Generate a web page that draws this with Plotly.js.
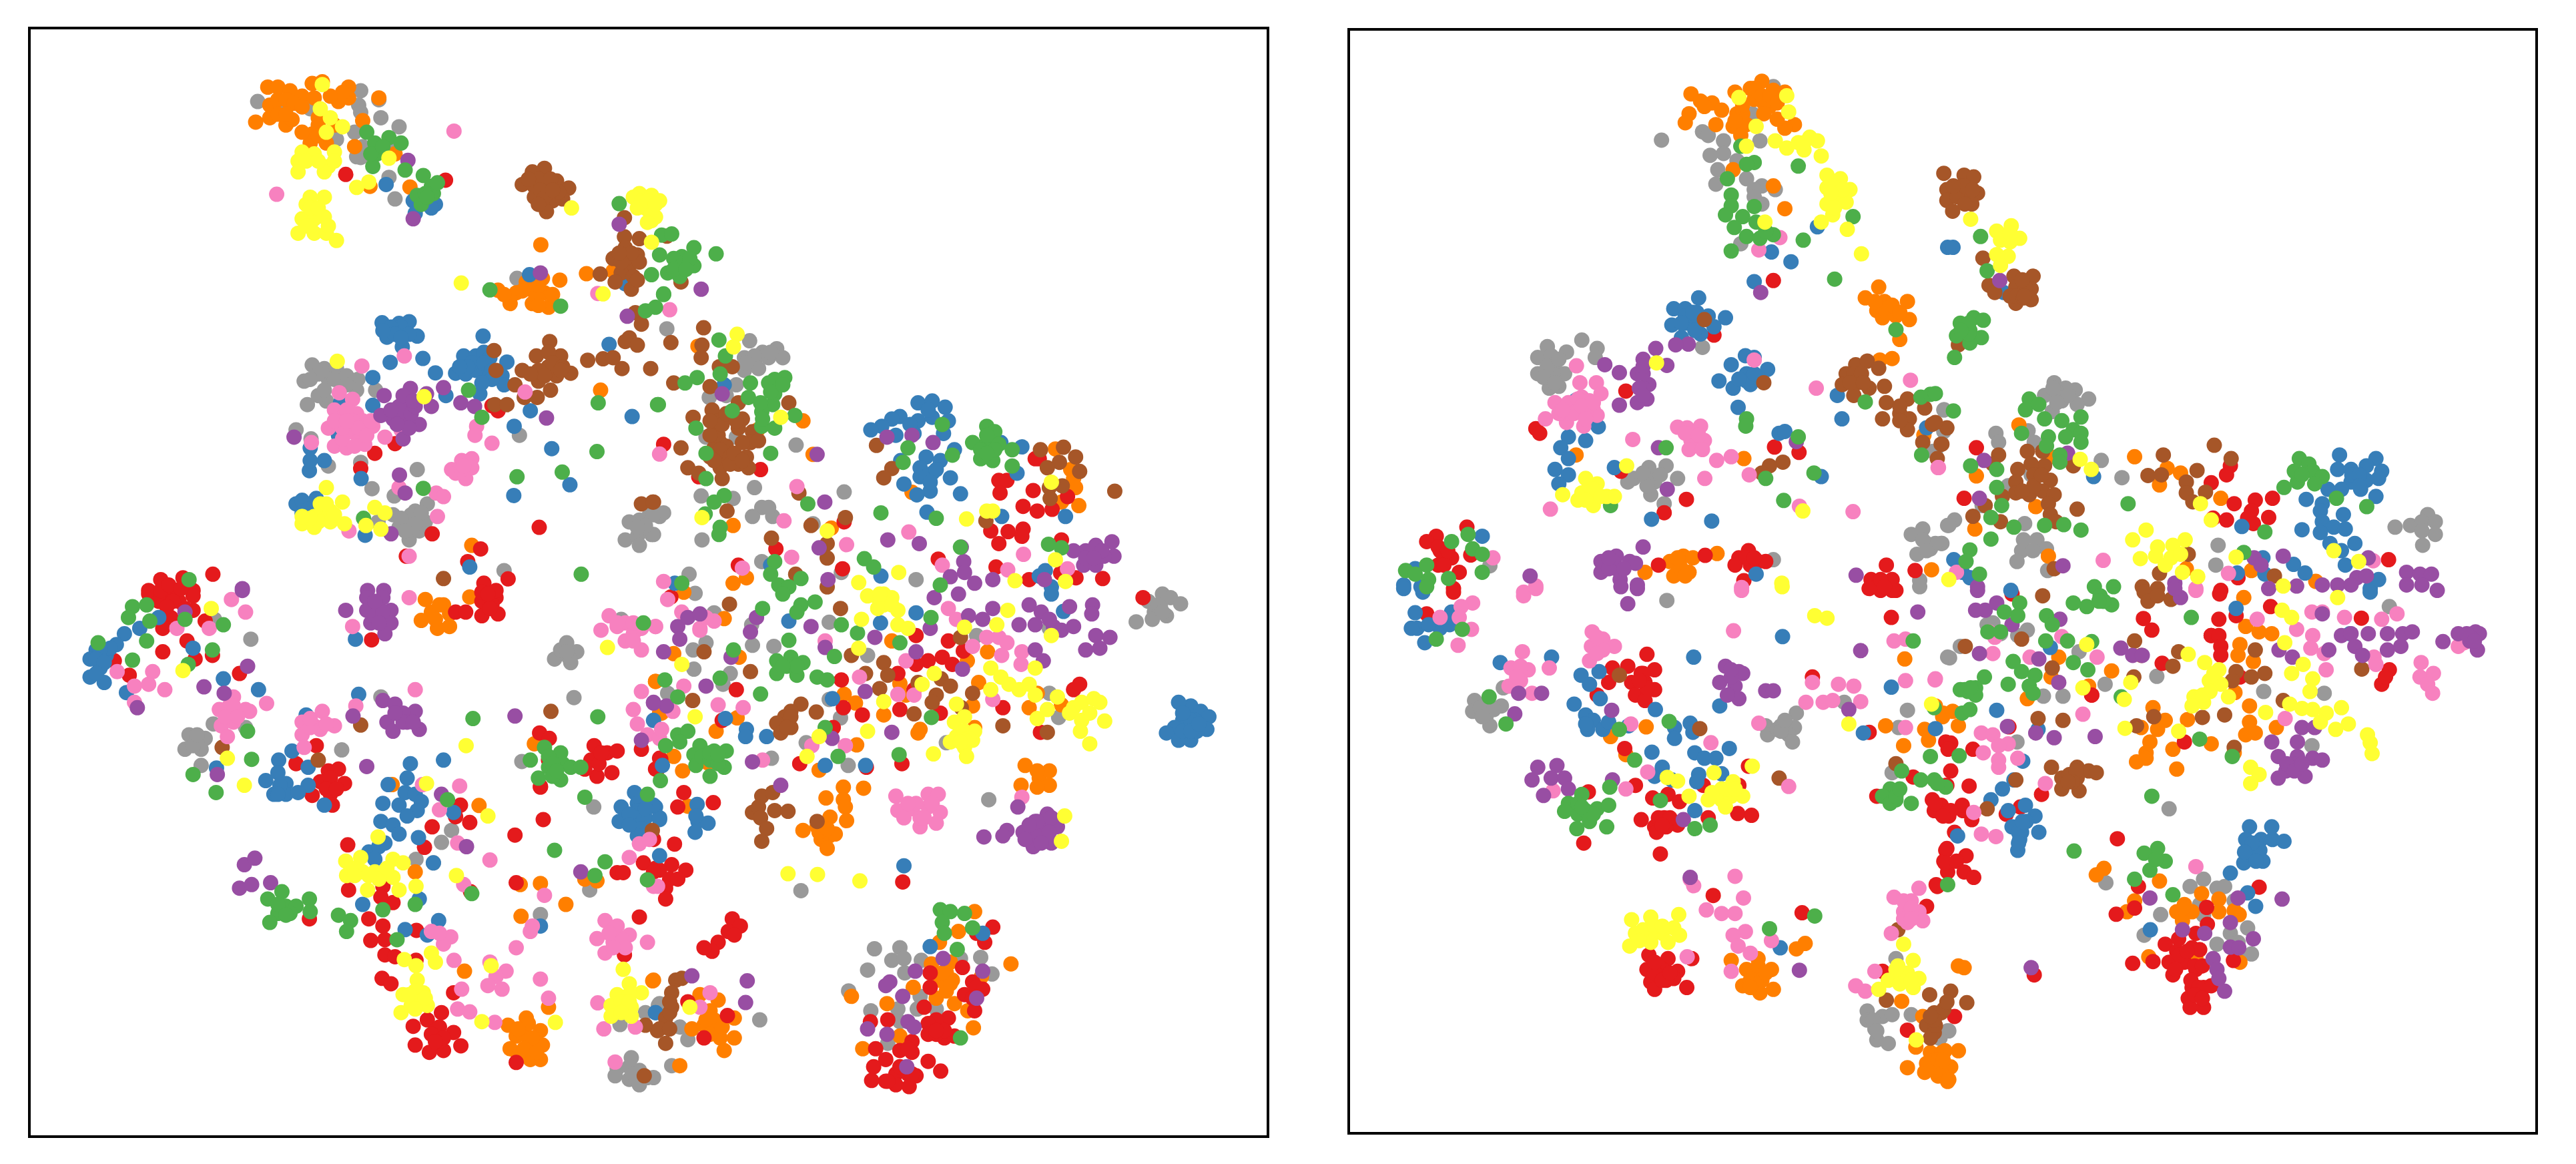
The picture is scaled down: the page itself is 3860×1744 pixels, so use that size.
<!DOCTYPE html>
<html>
<head>
<meta charset="utf-8">
<script src="https://cdn.plot.ly/plotly-3.0.1.min.js"></script>
<style>
  html, body { margin: 0; padding: 0; background: #fff; }
</style>
</head>
<body>
<div id="chart"></div>
<script>
// embedding coordinates, one list per class and panel
const leftRed = [[788,407],[1035,423],[1165,1062],[1150,1048],[860,1180],[910,1153],[825,1222],[1002,1403],[938,1465],[1122,1445],[1090,1480],[1130,1540],[1190,1528],[1267,1385],[330,1530],[300,1560],[385,1525],[355,1560],[410,1560],[459,1515],
[300,1570],[350,1575],[410,1575],[325,1590],[375,1590],[410,1615],[355,1635],[335,1665],[440,1645],[395,1700],[335,1730],[215,1755],[252,1795],[415,1750],[458,1740],[525,1790],[852,1697],[1060,1620],[1085,1620],[1125,1590],[1160,1580],[1125,1630],[1165,1625],[1150,1600],[1125,1565],[1160,1560],
[715,1990],[665,2040],[745,2060],[770,2055],[725,2090],[785,2095],[750,2125],[705,2128],[755,2155],[1072,2155],[1060,2187],[1095,2203],[1002,2215],[1207,2238],[1277,2195],[983,2272],[793,2265],[1097,2395],[1270,2105],[1210,2370],
[795,2390],[880,2380],[905,2425],[875,2410],[845,2470],[880,2490],[850,2530],[885,2528],[885,2570],[910,2575],[963,2502],[962,2585],[878,2635],[900,2650],[1055,2675],[698,2470],
[1025,2730],[990,2750],[955,2768],[1010,2780],[1055,2785],[960,2820],[995,2840],[1030,2835],[1073,2822],[1020,2810],[1210,2868],
[1268,1955],[1292,1970],[1290,2030],[1270,2103],[1403,1990],[1395,2030],[1435,2010],[1460,2005],[1410,2075],[1447,2065],[1380,2055],[1520,2000],[1565,2025],[1555,2055],[1525,2315],[1555,2330],[1460,2342],[1475,2342],[1515,2465],[1478,2570],
[1575,1155],[1815,1225],[1662,1245],[1853,1445],[2018,1500],[2255,1473],[2398,1495],[2480,1530],[2558,1512],[2596,1525],[2662,1527],[2560,1420],[1760,1490],[2022,1370],
[2505,1195],[2495,1195],[2405,1255],[2425,1255],[2408,1290],[2490,1283],[2465,1327],[2500,1340],[2537,1335],[2575,1300],[2385,1395],[2428,1397],[2405,1430],[2465,1390],[2462,1410],
[1593,1578],[2762,1580],[1755,1835],[2015,1808],[2067,1905],[1995,1940],[2020,1885],[1720,1920],[1568,2028],[1560,2055],[1912,2040],[2077,2050],[2165,2040],[2160,1890],[2195,1835],[2200,1685],[2230,1755],[2200,1765],[2265,1745],[2280,1700],[2317,1728],[2290,1765],[2155,1790],[2260,1900],[2415,1885],[2590,1835],[2605,1820],[2508,1953],[1625,2120],[1610,2160],[1698,2148],[1602,2263],[1550,2250],
[1595,2320],[1565,2335],[1630,2335],[1590,2360],[1580,2385],[1610,2360],[1580,2415],[1550,2340],[1745,2470],[1765,2490],[1735,2505],[1750,2515],[1710,2535],[1695,2560],[1675,2550],[2167,2368],
[2390,2493],[2350,2510],[2370,2535],[2315,2605],[2235,2620],[2235,2660],[2340,2645],[2365,2665],[2320,2680],[2340,2690],[2345,2725],[2130,2750],[2087,2755],[2280,2745],[2250,2750],[2230,2760],[2230,2790],[2270,2800],[2295,2795],[2190,2810],[2160,2835],[2190,2840],[2230,2865],[2100,2830],[2125,2860],[2095,2880],[2090,2918],[2125,2920],[2150,2900],[2150,2930],[2180,2900],[2200,2905],[2183,2935],[2261,2892],[2220,2715],
[1635,2700],[1675,2800],[1733,2738],
[330,1560],[350,1545],[380,1555],[360,1590],[345,1605],[390,1610],[1145,1610],[1140,1570],[750,2100],[750,2080],[740,2110],[765,2110],[1020,2770],[1000,2790],[1030,2800],[1010,2810],[1415,2040],[1420,2010],[2350,2660],[2250,2790],[2180,2830],[2160,2880],[2190,2900],[2130,2920],[2270,2780],[2250,2780]];
const leftBlue = [[888,435],[1010,490],[1000,500],[955,480],[960,515],[1243,685],[1480,710],[878,818],[920,820],[945,815],[965,855],[890,858],[928,885],[925,830],[898,928],[979,917],[1010,957],
[1128,855],[1080,910],[1060,958],[1085,960],[1110,910],[1130,900],[1145,915],[1130,960],[1110,950],[1175,965],[1180,990],[1187,927],[1120,1015],[1036,1020],[855,970],[855,1047],[775,1040],[770,1130],[700,1165],[735,1200],[698,1228],[700,1200],[826,1250],[1245,1062],[1205,1105],[1497,1078],[1298,1167],[1343,1267],[1204,1297],[1095,1495],
[665,1320],[690,1320],[715,1305],[680,1345],[836,1407],[1440,878],[1725,990],
[2205,1040],[2240,1035],[2272,1052],[2205,1090],[2240,1080],[2280,1090],[2160,1078],[2140,1085],[2115,1105],[2088,1115],[2150,1130],[2195,1125],[2268,1125],[2295,1170],[2225,1190],[2260,1200],[2210,1220],[2210,1245],[2240,1235],[2285,1248],[2170,1265],[2162,1200],[2235,1285],[2202,1295],[2310,1292],[2227,1343],
[2410,1150],[2462,1162],[2450,1235],[2412,1355],[2570,1355],[1840,1490],[1603,1540],[2113,1520],[2520,1505],[2535,1550],[2505,1520],
[240,1680],[220,1710],[170,1725],[155,1750],[195,1740],[155,1800],[190,1815],[180,1775],[205,1720],[245,1843],[485,1805],[572,1835],[410,1720],[278,1665],[325,1635],[812,1695],[820,1848],[690,1905],[655,2005],[695,2050],
[622,2030],[620,2065],[590,2087],[640,2095],[610,2125],[640,2125],[695,2100],[670,2120],[735,2155],[1030,2030],[948,2040],[940,2080],[935,2120],[960,2125],[880,2150],[920,2155],[975,2145],[965,2170],[940,2185],[875,2200],[905,2210],[920,2235],[968,2245],[1055,2175],[845,2285],[870,2270],[885,2260],[860,2305],[1005,2315],[830,2430],[970,2415],[935,2500],[1018,2475],[990,2515],[893,2098],[468,2052],
[1503,2120],[1470,2160],[1510,2150],[1465,2200],[1530,2190],[1510,2190],[1520,2220],[1555,2160],[1510,2240],[1565,2190],[1550,1920],[1270,2490],[1555,2730],
[1885,1645],[2112,1650],[2200,1622],[2565,1618],[2535,1570],[1993,1860],[1830,1965],[1780,1945],[1778,1965],[1728,1915],[1975,2045],[1572,2045],[2075,2045],[1565,2195],[1658,2153],[1660,2200],[1685,2205],[1653,2230],[1655,2185],[1565,2295],[2170,2323],[1550,2155],
[2880,1880],[2850,1870],[2905,1895],[2925,1910],[2860,1920],[2890,1920],[2840,1940],[2820,1955],[2920,1945],[2850,1975],[2880,1975],[2895,1950],[2860,1950],[2235,2547],[2365,2510],[1555,2730],
[900,830],[945,850],[910,850],[925,860],[880,840],[1100,930],[1090,940],[1130,930],[1150,950],[1070,940],[1150,975],[1125,985],[680,1310],[695,1335],[2230,1060],[2225,1245],[2250,1225],[2235,1260],[2185,1100],[180,1725],[170,1750],[190,1760],[170,1790],[625,2100],[620,2125],[1510,2170],[1490,2180],[1530,2165],[1490,2210],[2880,1920],[2880,1950],[2860,1900],[2900,1930]];
const leftGreen = [[840,290],[860,320],[865,350],[855,385],[895,305],[925,320],[935,395],[980,410],[1000,440],[965,465],[1005,460],[975,490],[1015,430],[1145,727],[1320,772],[1465,488],[1565,630],[1545,685],[1575,740],[1530,785],[1555,775],[1413,1040],[1560,1045],[1092,1005],[1125,1080],[980,1277],[1410,1175],[1324,1232],[1212,1245],[832,1360],[1371,1515],[400,1530],
[1570,575],[1595,572],[1620,635],[1600,640],[1650,610],[1585,680],[1615,690],[1650,660],[1625,650],[1705,627],[1575,738],[1712,866],[1728,910],[1628,985],[1658,970],[1715,960],[1790,985],[1835,985],[1875,970],[1850,975],[1850,1015],[1845,1045],[1785,1025],[1818,1065],[1818,1105],[1850,1110],[1900,1075],[1745,1062],[1562,1045],[1655,1110],[1680,1180],[1840,1180],[1680,1250],[1725,1297],[1700,1315],[1678,1348],[1932,1320],[1715,1385],[1712,1405],[2113,1345],
[2265,1100],[2180,1165],[2168,1205],[2290,1185],[2250,1360],[2375,1105],[2395,1120],[2340,1150],[2375,1150],[2405,1155],[2360,1195],[2390,1200],[2438,1170],[2438,1215],[1850,1480],[1840,1515],[1915,1527],[1620,1540],[2072,1472],[2095,1495],[2310,1440],[2528,1432],[2560,1442],[2260,1545],[1860,1545],[1885,1550],
[260,1605],[250,1635],[295,1600],[303,1645],[390,1640],[485,1655],[295,1700],[458,1725],[260,1753],[398,1765],[175,1705],[545,1950],[410,2070],[555,2028],[467,2120],[1103,1915],[1412,1910],[1040,2140],[1100,2400],[880,2445],[960,2430],[770,2460],[800,2475],[790,2505],[915,2528],
[595,2415],[630,2395],[640,2435],[620,2455],[600,2480],[665,2435],[698,2415],[700,2450],[650,2455],[1305,2280],[1380,2133],[1430,2312],[1405,2350],[1535,2362],[1535,2125],[1245,2030],[1280,1995],[1265,2080],[1320,2010],[1290,2050],[1325,2040],[1345,2050],[1320,2085],[1370,2050],[1300,2075],[1525,1650],
[1820,1610],[1915,1600],[1950,1592],[1905,1620],[1870,1570],[1885,1698],[2015,1655],[2055,1678],[2160,1705],[2237,1635],[1748,1725],[1998,1743],[1578,1808],[1715,1803],[1610,1855],[1815,1847],[2238,1912],[1975,1940],[1610,1960],[1635,1950],[1580,1990],[1615,1980],
[1855,1755],[1890,1745],[1920,1760],[1855,1790],[1905,1795],[1885,1765],[1955,1800],[1980,1808],[1665,1990],[1650,2015],[1700,2005],[1730,2005],[1655,2045],[1725,2050],[1690,2075],[1670,2020],[1567,2087],[2007,2020],[2158,2015],
[2260,2445],[2285,2450],[2265,2480],[2320,2455],[2340,2495],[2270,2510],[2302,2555],[2310,2800],
[850,350],[985,460],[990,470],[880,330],[1620,660],[1640,640],[1600,670],[1630,670],[1840,1010],[1870,990],[1815,1040],[1820,1085],[2375,1130],[2360,1170],[2395,1170],[2375,1180],[620,2430],[640,2460],[1290,2020],[1300,2040],[1310,2060],[1880,1770],[1905,1770],[1870,1770],[1690,2030],[1710,2040],[1690,2010],[1710,2015]];
const leftPurple = [[942,368],[955,530],[1270,680],[1465,545],[1485,800],[1030,998],[1073,1040],[1107,1050],[883,1020],[948,1000],[988,1015],[1000,1050],[945,1040],[920,1050],[940,1075],[905,1085],[970,1100],[875,1075],[930,1140],[660,1135],[921,1240],[935,1290],[1285,1082],[900,1403],[842,1560],[882,1560],[532,1555],
[1668,725],[1720,1015],[1955,1183],[1974,1315],[2128,1135],[2190,1130],[2242,1150],[2130,1420],[2208,1430],[1960,1442],[1982,1530],[2312,1440],[2318,1480],[2320,1510],[2285,1522],[2345,1540],[2390,1530],[2518,1530],[2590,1450],[2620,1450],[2645,1435],[2685,1425],[2690,1465],[2615,1490],[2645,1490],[2665,1465],
[532,1560],[390,1620],[272,1885],[437,1827],[545,1770],[487,1845],[470,2070],[788,1615],[840,1580],[880,1580],[840,1615],[900,1615],[870,1610],[850,1650],[900,1650],[885,1680],[806,1908],[840,2048],[880,1865],[910,1875],[960,1895],[890,1925],[930,1900],[970,1945],[905,1950],[940,1925],[1207,1908],[1550,1872],[1520,1975],[1025,2125],[1087,2270],[537,2320],[563,2302],[525,2385],[555,2375],[602,2370],[1370,2340],
[1575,1730],[1610,1660],[1635,1635],[1615,1695],[1665,1625],[1805,1635],[1790,1675],[1940,1660],[1975,1718],[1742,1745],[1680,1825],[1582,1880],[1550,1870],[2098,1690],[2200,1730],[2235,1665],[2315,1778],[2074,1840],[1992,1970],[2140,1953],[1795,2035],[1865,2100],[2245,1580],[2305,1570],[2330,1630],[2365,1640],[2390,1610],[2455,1655],[2480,1600],[2510,1620],[2495,1655],[2540,1660],[2560,1670],[2590,1660],[2580,1605],[2530,1640],[2495,1725],[2515,1755],[2637,1600],[2635,1625],[2645,1685],[2620,1725],[2655,1720],[2680,1690],
[2452,2160],[2368,2243],[2425,2225],[2415,2240],[2495,2200],[2525,2180],[2550,2215],[2475,2230],[2505,2250],[2535,2260],[2510,2210],[2465,2230],[2490,2270],[2535,2190],
[2267,2580],[2198,2615],[2135,2645],[2125,2655],[2167,2685],[2180,2755],[2195,2770],[2080,2775],[2128,2790],[2177,2880],[2350,2690],[2365,2615],[1645,2628],[1782,2642],[1778,2702],
[930,1070],[950,1070],[900,1060],[960,1050],[945,1110],[915,1100],[930,1020],[955,1035],[2620,1470],[2660,1450],[2640,1470],[860,1630],[880,1620],[860,1590],[870,1650],[930,1925],[910,1900],[955,1925],[2500,2240],[2500,2200],[2480,2210],[2530,2230],[2510,2260],[2470,2250]];
const leftOrange = [[595,165],[620,165],[650,175],[600,215],[600,250],[565,262],[640,270],[655,255],[680,190],[705,155],[730,150],[710,195],[795,165],[770,205],[795,195],[720,270],[705,295],[700,320],[740,320],[810,330],[830,258],[870,195],[760,270],[910,350],[947,442],[848,440],[1271,602],
[1165,728],[1195,765],[1210,735],[1245,725],[1275,695],[1318,700],[1250,765],[1290,775],[1280,735],[1235,705],[1450,675],[1384,682],[1419,1005],[1100,1435],[1660,883],[1920,1090],[1808,1115],[1945,1183],[1747,1380],[1990,1387],[1780,1525],[1747,1540],[2190,1288],[2545,1168],[2583,1225],[2590,1250],[2595,1275],[2603,1325],[2560,1315],
[985,1585],[1030,1600],[1000,1620],[975,1643],[1015,1665],[1045,1660],[1045,1625],[1095,1578],[1555,1812],[1565,1900],[903,2098],[1118,2156],[1220,2375],[1270,2372],[1333,2430],[1222,2463],[1082,2615],[960,2340],[1380,2360],[1410,2365],[1255,1985],[1548,2642],
[1235,2745],[1190,2765],[1210,2795],[1270,2780],[1195,2830],[1240,2820],[1275,2820],[1245,2860],[1270,2860],[1215,2850],[1290,2715],
[1625,1565],[1725,1638],[1600,1735],[1762,1745],[1705,1950],[1757,1913],[1555,1812],[1570,1900],[1600,2020],[1685,2038],[1622,2060],[1960,2058],[2053,1988],[2022,1848],[2050,1872],[2120,1905],[2160,1818],[2175,1850],[2140,1700],[2210,1945],[2340,1880],[2327,1755],[2355,1815],[2377,1730],[2480,1885],[2560,1877],[2345,1940],[2500,1845],[2205,1955],
[2470,2045],[2505,2080],[2530,2060],[2530,2100],[2460,2100],[2500,2105],[2070,2108],[1977,2135],[2020,2105],[2020,2140],[2025,2160],[1987,2188],[2028,2198],[1920,2225],[1955,2215],[1985,2240],[1965,2250],[2000,2235],[1980,2275],[1635,2158],
[2345,2450],[2305,2505],[2258,2535],[2435,2595],[2238,2595],[2285,2590],[2260,2640],[2290,2640],[2250,2690],[2295,2705],[2275,2670],[2362,2630],[2328,2725],[2342,2772],[2193,2660],[2128,2705],[2160,2795],[2068,2830],[2040,2685],
[1665,2680],[1710,2695],[1690,2725],[1645,2775],[1675,2765],[1700,2780],[1715,2800],[1750,2800],[1725,2835],[1750,2745],[1615,2877],[1550,2640],
[620,200],[640,200],[660,210],[620,240],[680,220],[640,240],[780,180],[750,190],[720,300],[680,290],[720,250],[1180,740],[1225,730],[1260,745],[1265,715],[1300,740],[1265,770],[1010,1640],[1020,1600],[1230,2790],[1240,2760],[1215,2775],[1250,2800],[1230,2830],[1260,2840],[2500,2060],[1960,2230],[1980,2220],[2275,2620],[2285,2650],[2265,2620],[1700,2750],[1680,2750],[1690,2790],[1720,2770]];
const leftYellow = [[730,158],[740,290],[680,345],[710,350],[670,370],[670,400],[760,345],[745,385],[735,400],[780,275],[750,250],[725,225],[815,443],[845,428],[895,362],[700,470],[735,470],[690,490],[680,530],[735,525],[670,570],[710,570],[740,570],[765,590],[710,530],[1347,500],[1074,708],[1425,738],
[1515,460],[1545,465],[1500,470],[1530,500],[1545,535],[1565,480],[1555,525],[1545,595],[767,925],[982,1023],[740,1275],[780,1315],[735,1340],[680,1375],[710,1385],[750,1370],[785,1375],[725,1320],[860,1330],[885,1345],[875,1390],[838,1380],
[1757,850],[1748,885],[1865,1080],[1670,1358],[1980,1395],[2375,1340],[2325,1362],[2390,1340],[2535,1260],[2157,1510],[2058,1538],[2445,1533],[2545,1475],[2570,1535],
[455,1610],[385,1782],[495,2025],[537,2100],[1436,1718],[988,2095],[1140,2185],[1086,1990],[868,2243],[1062,2350],[788,2310],[825,2300],[790,2350],[830,2340],[860,2340],[905,2305],[930,2315],[905,2355],[920,2390],[842,2390],[962,2380],[870,2360],[1000,2565],[1010,2590],[933,2583],[962,2600],
[965,2640],[930,2680],[980,2675],[950,2710],[925,2730],[990,2710],[1148,2600],[1125,2755],[1307,2757],[1475,2610],[1490,2650],[1460,2680],[1520,2675],[1445,2710],[1495,2715],[1445,2740],[1495,2740],
[2065,1640],[2155,1655],[2180,1665],[2105,1580],[2080,1575],[2140,1580],[2155,1615],[2105,1610],[2120,1570],[2427,1615],[2400,1655],[2320,1662],[2535,1685],[2058,1720],[1620,1765],[2120,1868],[2245,1790],[2215,1820],[2385,1775],[2410,1800],[2385,1835],[2430,1820],[2455,1835],[2480,1820],[2495,1775],[2495,1850],[2300,1875],[2320,1910],[2295,1925],[2340,1975],[2300,1965],[2320,1995],[2285,1980],[2345,1950],[2320,1950],[2325,2020],[2080,1950],[1960,1965],[1930,2020],[1653,1910],[2243,2013],
[2550,1855],[2525,1890],[2500,1915],[2590,1885],[2610,1870],[2640,1860],[2655,1870],[2580,1900],[2610,1920],[2630,1900],[2607,1950],[2667,1922],[2630,1985],[2568,2185],[1883,2345],[1956,2347],[2061,2365],[2560,2255],[1640,2715],
[690,370],[720,370],[760,370],[700,500],[700,550],[720,500],[690,550],[745,550],[1520,480],[1540,510],[1510,500],[1535,480],[1555,490],[1535,540],[710,1355],[720,1370],[700,1360],[750,1340],[740,1320],[680,1355],[760,1350],[810,2330],[845,2350],[890,2330],[810,2350],[960,2670],[960,2700],[945,2680],[985,2690],[960,2720],[1490,2680],[1470,2700],[1490,2700],[1470,2730],[2330,1970],[2320,1975],[2310,1980],[2120,1600],[2140,1600],[2110,1570]];
const leftBrown = [[1280,390],[1250,400],[1225,435],[1255,440],[1310,425],[1340,445],[1285,450],[1255,470],[1300,480],[1285,510],[1280,430],[1325,475],[1478,527],[1478,580],[1515,585],[1480,610],[1450,640],[1510,630],[1490,660],[1470,680],[1515,650],[1495,725],[1455,705],[1418,683],
[1505,790],[1520,822],[1490,860],[1480,870],[1510,880],[1387,922],[1425,918],[1472,945],[1543,945],[1450,915],[1155,895],[1160,950],[1293,870],[1260,910],[1320,910],[1225,950],[1290,940],[1345,958],[1310,965],[1265,980],[1295,1005],[1207,990],[1230,1025],[1262,1025],[1157,1045],[1187,1045],[1030,1527],[1520,1320],[1548,1315],
[1583,578],[1618,705],[1674,832],[1593,873],[1670,880],[1668,915],[1713,940],[1745,940],[1600,985],[1690,995],[1885,1040],[1695,1060],[1710,1090],[1760,1040],[1770,1085],[1648,1080],[1700,1120],[1760,1110],[1795,1120],[1715,1150],[1700,1165],[1790,1150],[1715,1190],[1780,1190],[1760,1210],[1715,1220],[1720,1250],[1785,1220],[1635,1220],[1662,1235],[1618,1165],[1810,1145],
[1910,1290],[1732,1340],[1550,1315],[1940,1380],[2025,1358],[2102,1158],[2140,1222],[2120,1248],[2565,1163],[2595,1190],[2555,1205],[2525,1220],[2605,1230],[2530,1275],[2532,1305],[2562,1270],[2508,1170],[2692,1285],[2373,1367],[1842,1415],[1980,1430],[1980,1470],[1902,1515],[1980,1550],
[482,1995],[825,1933],[720,2030],[1296,1895],[1547,2225],[1530,2765],[1560,2780],[1527,2905],
[1738,1598],[2013,1610],[1675,1730],[1790,1785],[1647,1865],[1953,1897],[2075,1790],[2120,1760],[2040,1740],[2130,1795],[2110,1832],[2205,1815],[2262,1805],[2285,1825],[2250,1850],[2240,1870],[2340,1845],[2195,1902],[2312,1885],[2415,1935],[2525,1953],[2310,1690],
[1915,1875],[1890,1895],[1875,1910],[1855,1928],[1890,1940],[1865,1955],[1818,2130],[1845,2120],[1795,2175],[1810,2160],[1815,2190],[1850,2170],[1883,2172],[1830,2220],[1818,2255],[1955,2200],
[1605,2640],[1620,2635],[1595,2675],[1595,2715],[1580,2745],[1565,2775],[1590,2775],[1580,2815],
[1265,420],[1295,420],[1270,450],[1315,455],[1280,470],[1265,490],[1300,450],[1240,420],[1480,640],[1495,625],[1500,690],[1470,650],[1510,700],[1465,625],[1290,900],[1265,950],[1300,930],[1325,940],[1280,965],[1245,960],[1320,950],[1710,1130],[1730,1160],[1715,1170],[1740,1190],[1740,1210],[1690,1190],[1700,1200],[1750,1180],[1770,1200],[1720,1100],[1730,1070],[1755,1090],[1690,1090],[1770,1150],[1690,1130],[1890,1910],[1880,1940],[1590,2730],[1590,2700]];
const leftPink = [[1056,287],[617,462],[1412,737],[933,910],[828,938],[772,1012],[1232,1010],[805,1030],[760,1060],[815,1070],[745,1110],[830,1090],[800,1120],[855,1105],[820,1145],[760,1160],[790,1165],[835,1155],[885,1135],[925,1115],[780,1080],[703,1150],[920,1275],[1012,1290],[1015,1355],[1030,1300],[1112,1105],[1108,1130],[1150,1152],[945,1465],[796,1395],
[1075,1200],[1050,1225],[1100,1195],[1085,1250],[1060,1235],[1100,1220],[1590,782],[1565,1182],[1905,1272],[1873,1367],[2028,1433],[1892,1468],[2182,1398],[2466,1460],[1770,1498],[1575,1535],[2265,1490],[2427,1503],[2575,1500],
[1585,1585],[1620,1620],[1665,1665],[1665,1670],[222,1785],[310,1785],[505,1585],[540,1620],[450,1665],[370,1665],[265,1825],[300,1820],[340,1835],[265,1870],[592,1873],[510,1855],[475,1890],[540,1890],[510,1900],[480,1935],[510,1925],[495,1965],[550,1895],
[805,1660],[945,1580],[960,1835],[813,1880],[730,1895],[680,1925],[760,1935],[710,1935],[680,1960],[725,1945],[685,1995],[1440,1630],[1420,1670],[1480,1650],[1520,1665],[1480,1700],[1520,1725],[1555,1660],[1500,1680],[1520,1840],[1500,1890],[1510,1930],[1535,1960],[1565,1970],
[978,2098],[1070,2102],[1020,2168],[1065,2260],[1145,2307],[1080,2375],[1280,2405],[1210,2550],[1048,2520],[1030,2540],[1000,2505],[1056,2585],[1020,2510],[1075,2665],[1065,2720],[1095,2728],[1145,2590],[1185,2615],[1160,2630],[1140,2655],[1175,2665],[1270,2637],[1290,2690],[1157,2757],[1250,2490],[1245,2505],
[1515,2262],[1490,2300],[1540,2250],[1430,2475],[1460,2490],[1490,2515],[1410,2525],[1450,2535],[1430,2565],[1470,2525],[1535,2535],[1480,2550],[1412,2703],[1427,2775],[1505,2770],[1455,2867],
[1555,1660],[1700,1645],[1680,1635],[1625,1825],[1710,1877],[1772,1885],[1598,1895],[1570,1945],[1942,1990],[2025,1990],[1820,2030],[2175,1755],[2155,1848],[2195,1850],[2060,1800],[2375,1690],[2405,1690],[2425,1705],[2412,1740],[2280,1610],[2300,1640],[2462,1730],[2460,1765],[2390,1862],[1975,1700],[2340,1715],
[2150,2130],[2155,2170],[2230,2125],[2255,2125],[2190,2165],[2230,2160],[2260,2175],[2170,2190],[2210,2215],[2250,2205],[2210,2190],[2462,2133],[1550,2380],[1560,2380],[1690,2675],[1665,2715],
[790,1060],[805,1090],[780,1140],[810,1160],[820,1110],[780,1110],[840,1130],[760,1090],[790,1090],[850,1090],[1075,1225],[1080,1215],[500,1880],[510,1880],[490,1910],[520,1910],[1500,1650],[1500,1700],[1460,1660],[1460,1650],[700,1940],[700,1915],[740,1930],[1450,2500],[1450,2550],[1440,2510],[2200,2150],[2240,2150],[2220,2190],[2180,2150]];
const leftGrey = [[570,205],[640,225],[825,175],[820,215],[825,235],[870,200],[875,250],[920,275],[810,290],[765,310],[825,360],[815,358],[905,330],[895,415],[910,475],[700,225],[830,330],[1212,695],
[705,935],[735,945],[765,945],[685,980],[745,975],[790,965],[818,975],[815,1005],[740,1035],[693,1045],[720,1020],[862,1005],[825,1205],[665,1115],[702,1140],[745,1215],[965,1225],[853,1278],[908,1298],[1218,1130],[868,1370],[1180,1505],
[990,1320],[960,1340],[905,1350],[940,1370],[985,1370],[950,1400],[920,1385],[945,1420],[970,1395],[1540,1350],[1515,1365],[1490,1370],[1480,1420],[1510,1410],[1515,1435],[1545,1405],[1565,1355],
[1583,835],[1788,868],[1775,915],[1820,900],[1855,890],[1870,915],[1800,925],[1835,915],[1775,950],[1755,990],[1730,1020],[1688,1025],[1903,1157],[1680,1135],[1755,1135],[1800,1275],[1668,1298],[1747,1305],[2022,1287],[1818,1330],[1795,1355],[1845,1355],[1835,1330],[1575,1345],[1550,1350],[1670,1420],[1945,1375],[1550,1405],[1818,1480],[1638,1515],[2200,1530],[2015,1510],
[463,1640],[553,1695],[460,1930],[540,1940],[400,1960],[440,1970],[390,2000],[430,2000],[430,2045],[875,1855],[778,2002],[1335,1705],[1360,1730],[1305,1750],[1345,1760],[1320,1725],[1470,1640],[1353,1857],[1050,2225],[1025,2258],[962,2305],[1005,2315],[1270,2458],[1224,2034],[1402,2160],[1392,2390],
[1470,2710],[1467,2763],[1530,2730],[1565,2705],[1495,2855],[1460,2885],[1515,2890],[1455,2905],[1490,2915],[1535,2910],[1515,2930],
[1653,1568],[1700,1622],[1793,1655],[1795,1712],[1848,1715],[1648,1725],[1680,1705],[1650,1778],[1740,1790],[1722,1820],[1585,1845],[1985,1648],[2080,1740],[2350,1685],[2530,1665],[2553,1912],[2530,1845],[1985,1862],[2013,1913],[1928,1982],[1842,2025],[2032,2045],[2275,1982],[2380,2140],[1915,2392],
[2810,1570],[2775,1590],[2830,1580],[2855,1597],[2790,1620],[2820,1630],[2745,1647],[2785,1640],[2805,1605],
[2097,2553],[2160,2550],[2140,2585],[2170,2580],[2172,2620],[2080,2612],[2213,2585],[2360,2577],[2388,2623],[2033,2670],[2210,2685],[2203,2720],[2088,2725],[2155,2720],[2160,2755],[2130,2815],[2250,2720],[2310,2580],
[1635,2805],[1615,2770],[1562,2710],[1813,2750],[1595,2877],[1550,2910],
[720,960],[760,975],[790,990],[700,975],[735,1005],[950,1350],[975,1345],[925,1360],[960,1375],[935,1395],[1530,1380],[1510,1385],[1800,910],[1840,900],[1810,945],[1780,930],[410,1990],[420,1960],[1340,1745],[1335,1730],[1490,2880],[1500,2900],[2800,1600],[2810,1620]];

const rightRed = [[1110,702],[955,853],[725,1008],[490,1112],[500,1125],[1113,1163],[1177,1178],[712,1230],[883,1308],[825,1345],[310,1385],[230,1410],[205,1425],[240,1450],[270,1470],[235,1490],[290,1510],[320,1462],[275,1555],[810,1490],[932,1463],[1045,1450],[1020,1470],[1070,1480],[1010,1490],[1090,1480],[1050,1490],[1033,1533],[1405,1490],[1365,1530],[1420,1530],[1380,1550],[1430,1560],[1480,1505],
[1640,1165],[1608,1305],[2303,1215],[2293,1240],[2253,1262],[2258,1360],[2293,1365],[2368,1310],[2413,1305],[2358,1340],[2348,1360],[2403,1358],[2363,1375],[2313,1320],[2716,1475],[2323,1525],[2278,1560],
[205,1625],[275,1565],[1390,1560],[1360,1555],[1420,1560],[1418,1635],[780,1737],[690,1775],[730,1770],[680,1815],[765,1790],[800,1780],[740,1815],[800,1835],[750,1850],[775,1865],[775,1815],[650,1850],[1185,2453],[953,2405],[897,2580],[884,2660],[1212,1800],[1360,1953],[722,1998],[1045,2047],[927,2100],[1020,2100],[1017,2178],[1053,2183],[940,2190],[627,2118],[615,2260],[750,2100],[815,2290],[795,2135],[835,2125],[865,2145],[765,2195],[800,2215],[825,2190],[860,2210],[805,2230],[830,2215],[785,2570],[835,2580],[780,2610],[820,2610],[860,2615],[790,2645],[830,2640],[800,2665],[850,2635],
[1380,2130],[1475,2077],[1525,2140],[1550,2180],[1560,2100],[1530,2170],[1560,2280],[1555,2310],[1565,2340],[1535,2375],[1510,2435],[1395,2615],[1460,2778],[1560,1980],
[1733,1570],[1725,1938],[1573,1983],[1566,2000],[1941,1850],[2098,1670],[2125,1762],[2076,1638],[2645,1637],[2183,1980],[2253,1685],[2273,1640],[2275,1570],[2408,1605],[2318,1630],[1573,2060],[1631,2000],[1941,1850],[2253,1685],[2273,1685],[2278,1715],[2278,1740],[2328,1800],[2698,1820],[2718,1780],[2708,1800],
[1563,2100],[1605,2170],[1621,2102],[1568,2185],[1548,2155],[1603,2155],[1573,2170],[1553,2185],[1628,2195],[1583,2230],[2008,2248],[1718,2180],[1755,2160],[1810,2125],[1532,2150],
[1563,2275],[1613,2295],[1558,2315],[1588,2310],[1608,2340],[1633,2355],[1538,2380],[2063,2380],[2378,2382],[2005,2457],[2241,2438],[2053,2440],
[2243,2485],[2213,2510],[2133,2540],[2168,2525],[2163,2560],[2203,2550],[2223,2555],[2143,2590],[2183,2590],[2153,2625],[2213,2610],[2203,2660],[2193,2690],[2233,2660],[2253,2655],[2198,2715],[2233,2715],[2048,2593],[2101,2588],[2311,2585],[1791,2625],[1583,2740],
[235,1440],[250,1470],[250,1490],[260,1450],[1040,1470],[1060,1470],[1390,1530],[1400,1550],[770,1790],[780,1830],[760,1810],[810,2190],[840,2190],[820,2210],[810,2600],[800,2620],[820,2640],[840,2620],[800,2590],[2170,2570],[2190,2560],[2210,2600],[2230,2600],[2200,2640],[2220,2660],[2210,2680],[2230,2690],[2160,2610]];
const rightBlue = [[1225,553],[1105,623],[1156,650],[1060,705],[1565,610],[915,750],[850,780],[880,780],[910,790],[845,825],[880,820],[940,800],[985,805],[920,850],[955,830],[870,860],[905,820],[653,1107],[575,1135],[620,1145],[555,1165],[575,1195],[540,1225],[575,1240],[550,1265],[595,1033],[1037,910],[1000,935],[1060,915],[1095,948],[968,980],[1005,1000],[1040,960],[1050,990],[1075,975],[1277,1020],[1018,1053],[1289,1085],[1510,1110],[1125,1125],[1140,1120],[1235,1245],[695,1220],[792,1363],[949,1368],[350,1410],[175,1500],[145,1545],[190,1550],[1065,1515],
[1579,610],[1711,735],[1946,1245],[2501,1308],[2333,1383],[2490,1392],[2468,1488],[2498,1512],[2393,1515],[2321,1512],[2388,1470],[2668,1555],[2690,1530],[1603,1510],[1581,1475],[1623,1525],[1730,1560],
[2588,1185],[2583,1225],[2683,1195],[2658,1215],[2618,1225],[2698,1230],[2618,1260],[2658,1255],[2593,1280],[2643,1280],[2683,1300],[2558,1280],[2543,1320],[2538,1340],[2598,1350],[2543,1370],[2573,1385],[2603,1390],[2538,1400],[2563,1430],[2628,1430],[2593,1450],[2603,1490],
[175,1622],[270,1620],[240,1665],[180,1665],[210,1655],[165,1665],[200,1705],[265,1655],[145,1555],[195,1565],[1134,1688],[902,1745],[1418,1828],[1345,1955],[1533,1943],[608,1795],[655,1785],[630,1820],[658,1860],[397,1760],[531,1745],[802,1890],[590,1875],[620,1905],[640,1920],[625,1945],[665,1945],[680,1925],[732,1935],[852,1940],[852,1970],[893,1928],[900,1953],[793,2008],[995,1998],[905,2010],[930,2025],[960,2025],[975,2068],[915,2070],[910,2090],[820,2050],[800,2075],[845,2085],[905,2170],[970,1880],[1128,2550],
[1833,1718],[1693,1892],[1801,1945],[1761,2033],[2615,1680],[2668,1565],[2318,1610],
[1738,2085],[1708,2110],[1678,2140],[1768,2155],[1793,2185],[1803,2230],[1723,2170],[1733,2215],[1758,2230],[1748,2280],[1753,2250],[1591,2240],
[2353,2215],[2411,2215],[2343,2250],[2383,2250],[2413,2250],[2443,2255],[2358,2285],[2388,2310],[2338,2315],[2363,2300],[2303,2343],[2348,2398],[2369,2435],[2094,2500],
[880,800],[900,790],[870,820],[905,840],[1040,980],[1020,975],[1060,960],[2620,1240],[2640,1240],[2640,1270],[2690,1250],[620,1930],[2370,2260],[2380,2280],[2360,2260],[2340,2285],[2370,2310],[1770,2200],[1750,2230],[1760,2200],[1750,2260]];
const rightGreen = [[1025,330],[1060,375],[1040,380],[1175,385],[990,420],[1000,465],[1000,495],[985,520],[1030,525],[1060,497],[1065,540],[1008,555],[1040,580],[1075,585],[1110,575],[1090,565],[1188,590],[1000,620],[1318,525],[1270,698],[1430,838],[830,1165],[1040,1085],[1038,1105],[1350,1038],[1495,1025],[1520,1017],[1497,1185],[1175,1135],[1090,1250],[1216,1235],[685,1325],[1137,1311],
[270,1425],[325,1445],[350,1460],[350,1510],[205,1490],[150,1505],[175,1515],[210,1530],[262,1527],[313,1405],
[1651,580],[1668,675],[1598,820],[1633,805],[1658,812],[1588,855],[1623,840],[1653,860],[1623,875],[1583,915],[1533,1015],
[1778,1030],[1768,1060],[1803,1045],[1818,1085],[1863,1090],[1913,1080],[1580,1063],[1893,1115],[1873,1135],[1913,1125],[1913,1150],[1828,1135],[1823,1160],[1758,1125],[1858,1185],[1858,1205],[1625,1215],[1693,1225],[1693,1275],[1706,1325],[1678,1358],[2036,1320],[2393,1398],[1678,1418],[1623,1448],[1613,1480],[1648,1515],[1738,1385],[1818,1380],[1868,1378],[1913,1393],[2338,1455],[1948,1550],[1998,1550],
[2483,1195],[2508,1210],[2478,1235],[2518,1230],[2443,1275],[2478,1260],[2543,1245],[2523,1265],[2580,1305],[2659,1328],
[205,1550],[298,1668],[230,1695],[1475,1700],[368,1855],[412,1930],[708,1945],[838,1923],[748,2030],[1530,1885],[1520,2020],[610,2125],[575,2150],[565,2172],[600,2180],[630,2200],[650,2165],[680,2155],[597,2220],[675,2215],[683,2105],[620,2170],[815,2142],[905,2220],[945,2210],[1218,2462],[1100,2497],
[1415,2110],[1445,2060],[1395,2130],[1430,2140],[1470,2150],[1415,2150],[1495,2085],[1530,2085],[1560,2105],[1565,2375],
[1753,1595],[1748,1630],[1713,1620],[1823,1630],[1838,1655],[1893,1595],[1928,1605],[1963,1575],[1993,1600],[1973,1590],[2201,1635],[1670,1675],[1703,1675],[1821,1700],[1941,1702],[1878,1700],[1893,1760],[1931,1780],[1758,1785],[1736,1757],[1661,1800],[1723,1820],[1793,1795],[1778,1825],[1788,1845],[1598,1835],[1618,1840],[1638,1830],[1638,1850],[1603,1900],[1623,1890],[1595,2018],[2018,1855],[2223,1972],[2308,2020],[2098,2130],
[1538,2095],[1895,2282],[2113,2275],[2078,2288],[2133,2310],[2093,2335],[2108,2305],[2053,2360],[2153,2403],
[2470,1230],[2490,1240],[1620,850],[1620,820],[1600,840],[600,2150],[640,2180],[610,2160],[1430,2130],[1440,2110],[1970,1590],[1960,1590],[1610,1835],[1625,1830]];
const rightPurple = [[1077,735],[888,878],[855,880],[803,890],[670,935],[708,957],[770,920],[832,937],[755,960],[785,990],[780,1030],[755,1040],[708,1047],[770,1000],[810,1165],[1170,1148],[833,1280],[700,1465],[660,1480],[700,1500],[735,1480],[660,1510],[710,1530],[750,1485],[770,1440],[755,1545],[475,1520],[1326,1518],
[1701,702],[1660,1200],[1648,1305],[1878,1180],[1866,1492],[2158,1540],[2365,1470],[2383,1490],[2441,1465],[1643,1550],[2403,1555],[2476,1548],[2543,1545],[2583,1545],[2633,1525],[2658,1520],[2763,1510],[2798,1515],[2828,1515],[2763,1545],[2803,1545],[2843,1560],[2618,1545],[2663,1470],
[730,1597],[712,1550],[755,1555],[1487,1620],[1338,1727],[445,1845],[505,1845],[435,1902],[688,1892],[985,1770],[1020,1785],[970,1815],[1010,1825],[1030,1790],[1020,1860],[990,1850],[1090,1838],[1110,1838],[1307,1890],[495,2050],[545,2045],[480,2085],[530,2080],[565,2080],[575,2110],[510,2128],[690,2085],[875,2195],[893,2355],[1178,2612],
[1643,1560],[1663,1615],[1638,1615],[1693,1595],[1858,1640],[1733,1655],[2173,1580],[2158,1555],[1648,1735],[1803,1750],[1855,1815],[2017,1720],[2048,1740],[2073,1740],[2430,1725],[2465,1745],[2543,1625],[2560,1725],[2593,1685],[2618,1680],[2628,1715],[2663,1680],[2648,1740],[2713,1725],[2713,1680],[2753,1680],[2778,1675],[2748,1715],[1843,1968],[1950,1965],[1721,1937],[1795,1955],[2411,1980],[2490,1940],[2523,1940],
[2858,1702],[2898,1680],[2943,1675],[2928,1700],[2953,1680],[2948,1725],
[2478,1980],[2428,2020],[2478,2020],[2428,2080],[2463,2050],[2498,2075],[2518,2025],[2543,2030],[2448,2060],
[2093,2412],[2323,2412],[2438,2415],[2303,2480],[2178,2500],[2236,2510],[2303,2548],[2363,2525],[2325,2550],[2258,2580],[2268,2610],[2288,2670],[2273,2635],[1783,2605],
[770,960],[760,1000],[770,1020],[770,940],[690,1480],[680,1500],[720,1500],[680,1470],[1000,1800],[1000,1780],[2930,1690],[2920,1680],[2940,1700],[2478,2040],[2450,2040],[2470,2060],[2490,2040]];
const rightOrange = [[895,185],[920,205],[950,210],[975,230],[890,240],[880,265],[960,270],[1010,180],[1050,170],[1080,150],[1110,175],[1060,200],[1100,220],[1140,180],[1165,270],[1140,280],[1015,240],[1005,275],[1040,270],[1025,300],[1085,210],[1120,255],[1005,395],[1110,440],[1140,503],
[1385,720],[1350,750],[1400,760],[1380,785],[1420,790],[1460,760],[1395,805],[1465,810],[1430,800],[1440,865],[1388,922],[1420,918],[595,1185],[1503,1130],[1033,1195],
[875,1465],[840,1480],[900,1470],[850,1520],[890,1510],[865,1490],[963,1458],[775,1510],[1523,1503],
[1751,1102],[1833,1190],[1640,1243],[2053,1190],[2138,1222],[2118,1268],[2173,1235],[2278,1305],[1795,1328],[1636,1390],[1828,1465],[2188,1500],[2358,1505],[2526,1535],
[725,2015],[685,1965],[778,1938],[1403,1935],[1450,1990],[1505,1945],[1515,1975],[1552,1910],[1453,1750],[1170,2553],[1193,2538],
[1070,2580],[1040,2610],[1105,2610],[1070,2630],[1030,2655],[1075,2675],[1110,2665],[1000,2585],[1050,2640],
[1445,2698],[1500,2740],[1482,2825],[1460,2882],[1520,2840],[1510,2870],[1550,2840],[1505,2895],[1535,2870],[1540,2905],[1565,2920],
[1553,1900],[1593,1935],[1533,1880],[1578,1895],[2338,1580],[2343,1660],[2378,1675],[2411,1680],[2328,1710],[2323,1740],[2363,1757],[2315,1843],[2353,1880],[2353,1925],[2343,1960],[2368,1955],[2423,1940],[2101,1885],[2133,1920],[2191,1918],[2113,1945],[2253,1985],[2163,2055],[2070,1940],[1993,1783],[1855,1745],[1835,1800],[1773,1860],[1933,1825],[2093,1980],[2083,2010],[2058,2035],[2083,2025],[2153,2000],[2313,2010],
[1973,2330],[1953,2348],[2118,2365],[2228,2400],[2273,2415],[2273,2450],[2326,2458],[2053,2420],[2033,2450],[2183,2430],[2163,2450],[2203,2450],[2178,2475],[2090,2575],[2213,2575],[2328,2590],[2313,2447],
[1593,2600],[1608,2605],[1558,2835],[1593,2835],[1533,2860],[1573,2880],[1548,2895],[1568,2915],[1533,2890],
[930,220],[1060,170],[1080,190],[1100,190],[1030,240],[1030,215],[1085,240],[1010,260],[1120,210],[1400,780],[1420,770],[1375,760],[1440,790],[870,1500],[860,1470],[880,1520],[1060,2620],[1080,2640],[1070,2600],[1090,2620],[1050,2660],[1520,2870],[1540,2860],[2355,1950],[2180,2440],[1553,2860]];
const rightYellow = [[1020,195],[1145,190],[1150,235],[1065,275],[1115,315],[1145,335],[1175,320],[1205,305],[1225,315],[1190,340],[1235,357],[1040,330],[1088,540],[1250,410],[1285,420],[1250,445],[1310,450],[1280,470],[1250,490],[1300,485],[1265,520],[1235,540],[1303,560],[1340,628],[805,930],[727,1215],[620,1250],[650,1265],[610,1290],[640,1300],[640,1325],[675,1300],[695,1300],[560,1295],[600,1310],[1187,1340],[1132,1540],
[1625,532],[1693,565],[1731,550],[1703,590],[1753,585],[1728,595],[1693,630],[1723,635],[1703,660],[1911,1197],[1940,1225],[2225,1320],[2048,1420],[2083,1393],[2113,1440],[2153,1435],[2185,1420],[2068,1472],[2108,1465],[2148,1470],[2133,1490],[2173,1460],[2178,1510],[2218,1522],[2318,1468],[2638,1480],[2441,1548],[1568,1530],[2253,1365],[2573,1450],
[1218,1630],[1250,1637],[1133,1550],[1307,1930],[1523,1875],[833,2078],[860,2088],[955,2065],[1055,2047],[975,2110],[1005,2090],[940,2140],[890,2130],[975,2140],[1030,2130],[1000,2130],[985,2160],
[740,2472],[790,2465],[850,2495],[765,2510],[820,2510],[735,2545],[835,2535],[790,2535],[863,2458],[865,2515],[750,2510],[1450,2540],[1475,2585],[1435,2600],[1410,2640],[1445,2630],[1490,2635],[1385,2665],[1475,2660],[1483,2805],
[1928,1710],[2043,1815],[2026,1862],[2028,1942],[2193,1737],[2236,1760],[2273,1780],[2248,1810],[2278,1820],[2208,1855],[2233,1870],[2203,1880],[2298,1855],[2168,1950],[2395,1898],[2445,1705],[2438,1615],[2463,1635],[2493,1765],[2463,1790],[2518,1805],[2511,1840],[2458,1875],[2490,1887],[2518,1890],[2553,1900],[2593,1885],[2538,1925],[2578,1945],[2611,1930],[2661,1960],[2668,1982],[2673,2012],[2356,2050],[2378,2070],[2356,2095],[2583,1580],[1918,1830],
[1190,320],[1270,440],[1290,450],[1270,500],[1260,460],[630,1270],[640,1280],[620,1310],[660,1300],[1703,575],[1728,570],[960,2130],[950,2120],[990,2110],[1010,2110],[790,2510],[770,2500],[800,2490],[820,2490],[760,2530],[1440,2650],[1460,2620],[1470,2640],[1430,2610],[2260,1790],[2250,1840],[2230,1850]];
const rightBrown = [[930,810],[1325,935],[1355,925],[1300,960],[1290,990],[1330,985],[1360,1000],[1400,995],[1385,945],[1320,1020],[1085,985],[1405,1040],[1395,1085],[1440,1070],[1460,1030],[1465,1085],[1505,1055],[1460,1115],[1525,1100],[1500,1150],[1550,1155],[1135,1205],[1100,1215],[1080,1235],
[1555,405],[1608,410],[1633,415],[1563,450],[1603,440],[1643,460],[1563,480],[1608,470],[1628,490],[1578,510],[1657,640],[1673,715],[1688,735],[1738,690],[1788,690],[1783,725],[1743,720],[1768,720],[1743,765],[1783,755],[1728,745],[1593,880],
[1563,1110],[1533,1095],[1548,1155],[1538,1195],[1698,1185],[1683,1210],[1773,1175],[1813,1175],[1818,1215],[1783,1210],[1748,1225],[1743,1260],[1833,1255],[1743,1290],[1778,1295],[1813,1285],[1843,1295],[1828,1320],[1833,1350],[1848,1370],[1708,1300],[1663,1325],[1631,1355],[1703,1370],[1903,1335],[1893,1215],[2128,1185],[2088,1242],[2123,1240],[2216,1228],[2188,1260],[2188,1290],[2238,1288],[2205,1315],[2261,1158],[2305,1195],[2193,1460],[2118,1513],[2418,1520],[1843,1500],[2073,1550],[2113,1555],
[708,1795],[1430,2040],[918,1943],[1125,2080],[1518,2680],[1435,2500],[1405,2695],[1530,2730],[1555,2720],[1510,2765],[1530,2785],[1520,2800],
[1813,1575],[2078,1565],[2088,1590],[2148,1585],[2113,1575],[1758,1695],[1611,1715],[2053,1700],[2071,1740],[2168,1730],[2153,1770],[2051,1800],[2368,1725],[2318,1785],[2308,1810],[2358,1800],[2393,1790],[1866,1920],[1801,1915],[2230,1912],[2288,1905],[2441,1865],[2058,1935],[2313,1995],[2646,1778],[2103,1910],[1838,1775],
[1836,2050],[1863,2080],[1903,2050],[1933,2060],[1953,2065],[1903,2080],[1863,2110],[1908,2115],[1883,2070],[1668,2165],[1743,2085],
[1573,2670],[1615,2702],[1548,2730],[1533,2765],[1563,2700],
[1320,960],[1340,960],[1310,985],[1345,985],[1440,1050],[1440,1090],[1590,450],[1590,470],[1610,440],[1580,440],[1610,490],[1630,450],[1745,745],[1763,750],[1760,700],[1765,745],[1790,1240],[1790,1270],[1760,1285],[1810,1240],[1530,2750],[1520,2740],[1900,2060],[1890,2090],[1880,2090]];
const rightPink = [[1127,583],[1072,617],[596,938],[605,985],[648,985],[660,1015],[610,1025],[540,1040],[640,1060],[575,1040],[600,1060],[515,1085],[570,1095],[650,1075],[615,1105],[580,1070],[630,1035],[743,1142],[860,1108],[885,1110],[920,1105],[895,1145],[930,1145],[890,1170],[925,1170],[1060,922],[1222,1000],[1468,978],[1540,1220],[1000,1190],[962,1200],[1047,1240],[931,1250],[528,1335],[1178,1327],[1318,1342],[378,1470],[490,1548],[458,1565],[1027,1552],
[1541,1220],[1971,1477],[2676,1478],[2298,1513],[2213,1555],[1588,1510],
[325,1595],[295,1605],[240,1635],[290,1635],[322,1668],[287,1712],[458,1575],[490,1555],[1027,1560],[1006,1672],[637,1675],[665,1695],[695,1715],[635,1715],[630,1755],[665,1725],[455,1730],[425,1775],[470,1780],[420,1825],[450,1810],[480,1845],[525,1775],[1425,1700],[1455,1695],[535,2115],[725,2110],[782,2063],[738,1930],[947,1982],[1212,1815],[1280,1820],[1320,1825],[1195,1870],[1240,1870],[1265,1865],[1338,1868],[1072,1928],[1455,1810],[1532,1808],[1455,1940],[1150,2103],
[893,2360],[1010,2352],[902,2378],[1032,2412],[935,2445],[975,2455],[1010,2455],[1037,2505],[1005,2515],[1018,2545],[1050,2565],[1105,2530],[885,2575],[1000,2615],[1490,2385],[1425,2410],[1470,2420],[1450,2450],[1490,2450],[1460,2480],[1500,2475],[1418,2510],[1375,2615],[1325,2655],[1350,2670],
[2213,1560],[1673,1675],[1688,1690],[1683,1735],[1863,1688],[1780,1745],[1955,1745],[1533,1805],[1918,1903],[2373,1640],[2476,1668],[2516,1620],[2543,1620],[2601,1635],[2698,1640],[2738,1625],[2518,1685],[2513,1720],[2548,1735],[2553,1780],[2678,1745],[2683,1765],[2446,1915],
[2801,1760],[2833,1790],[2798,1800],[2818,1820],[2831,1845],[2898,1715],[2913,1705],
[1653,1955],[1683,1960],[1723,1985],[1658,2010],[1698,1990],[1698,2030],[1698,2050],[1748,2025],[1820,2095],[1633,2175],[1653,2235],[1691,2242],[2213,2325],
[600,1030],[590,1070],[620,1070],[610,1050],[640,1040],[550,1070],[620,1085],[560,1060],[900,1130],[880,1125],[915,1130],[650,1690],[650,1735],[450,1770],[440,1800],[1450,2420],[1470,2440],[1450,2470],[1470,2470]];
const rightGrey = [[1110,165],[1055,240],[925,290],[940,300],[980,315],[818,313],[1075,315],[945,355],[980,350],[1015,370],[965,395],[960,435],[1040,420],[1080,440],[1115,450],[1060,450],[1060,470],[1080,490],[1025,600],[925,887],
[610,867],[650,890],[645,915],[520,885],[495,915],[570,900],[540,930],[495,960],[525,1000],[550,995],[565,960],[535,960],[1555,1060],[1555,1120],[1527,1175],[785,1220],[830,1215],[745,1250],[800,1260],[860,1250],[730,1260],[790,1295],[825,1320],[370,1492],[1110,1475],[1492,1532],[1470,1405],[1500,1390],[1510,1430],[1550,1430],[1485,1460],[1520,1445],[1565,1380],
[1843,985],[1873,1000],[1818,1020],[1898,1005],[1863,1035],[1933,1030],[1903,1045],[1838,1065],[1556,1060],[1775,1118],[1791,1150],[1691,1125],[1698,1150],[1966,1200],[2020,1248],[1783,1240],[1723,1270],[1655,1325],[1583,1365],[1568,1380],[1766,1375],[1548,1430],[1533,1430],[1763,1420],[1798,1420],[1758,1450],[1823,1445],[1788,1450],[1746,1480],[1826,1505],[2271,1435],[2265,1490],[1533,1175],
[2818,1350],[2733,1385],[2773,1380],[2803,1370],[2838,1370],[2838,1405],[2803,1395],[2805,1435],
[832,1588],[1492,1550],[405,1830],[330,1865],[365,1870],[400,1880],[325,1895],[360,1910],[370,1935],[1295,1870],[1170,1900],[1130,1935],[1090,1935],[1165,1940],[1095,1960],[1150,1960],[1120,1945],[1160,1980],[1437,1940],[1460,1892],[1565,1745],[1420,2065],
[1430,2580],[1355,2725],[1355,2750],[1395,2740],[1420,2735],[1375,2775],[1380,2805],[1410,2815],[1470,2735],[1545,2800],[1565,2780],
[1683,1650],[1668,1655],[1703,1680],[1748,1685],[1773,1670],[1598,1715],[1570,1747],[1908,1730],[1815,1853],[1866,1853],[1976,1820],[2111,1798],[2390,1840],[2548,1845],[1746,1980],[2516,1990],[2718,1605],
[2143,2165],[1963,2345],[1978,2370],[2233,2360],[2198,2380],[2268,2385],[2288,2380],[2223,2430],[2313,2420],[2121,2458],[2078,2515],[2348,2495],[2303,2510],[2323,2535],[2268,2540],[2333,2570],[2358,2567],[2233,2460],
[1568,2780],[1543,2800],
[530,910],[520,940],[550,920],[510,970],[540,985],[780,1250],[780,1270],[815,1240],[770,1235],[1500,1420],[1510,1450],[1850,1010],[1880,1020],[1850,1040],[1840,1000],[360,1890],[345,1885],[380,1890],[350,1910],[1130,1950],[1140,1920],[1370,2750],[1380,2780]];

const classColors = ["#999999", "#ff7f00", "#e41a1c", "#377eb8", "#a65628", "#f781bf", "#984ea3", "#4daf4a", "#ffff33"];
const leftClasses = [leftGrey, leftOrange, leftRed, leftBlue, leftBrown, leftPink, leftPurple, leftGreen, leftYellow];
const rightClasses = [rightGrey, rightOrange, rightRed, rightBlue, rightBrown, rightPink, rightPurple, rightGreen, rightYellow];

function makeTraces(classes, xaxis, yaxis) {
    return classes.map((points, i) => ({
        x: points.map(p => p[0]),
        y: points.map(p => p[1]),
        xaxis: xaxis,
        yaxis: yaxis,
        mode: "markers",
        type: "scatter",
        marker: { size: 23, color: classColors[i], line: { width: 0 } },
        hoverinfo: "skip",
    }));
}

function frameAxis(range, domain, anchor) {
    return {
        range: range,
        domain: domain,
        anchor: anchor,
        showgrid: false,
        zeroline: false,
        showticklabels: false,
        ticks: "",
        showline: true,
        mirror: true,
        linecolor: "#000000",
        linewidth: 4,
    };
}

const W = 3860;
const H = 1744;

const layout = {
    width: W,
    height: H,
    showlegend: false,
    paper_bgcolor: "#ffffff",
    plot_bgcolor: "#ffffff",
    margin: { l: 0, r: 0, t: 0, b: 0 },
    xaxis: frameAxis([8, 3068], [46 / W, 1898 / W], "y"),
    yaxis: frameAxis([3070, 5], [1 - 1701 / H, 1 - 44 / H], "x"),
    xaxis2: frameAxis([5, 3099], [2023 / W, 3799 / W], "y2"),
    yaxis2: frameAxis([3060, 10], [1 - 1696 / H, 1 - 46 / H], "x2"),
};

const chartData = makeTraces(leftClasses, "x", "y").concat(makeTraces(rightClasses, "x2", "y2"));

Plotly.newPlot(document.getElementById("chart"), chartData, layout, { displayModeBar: false, staticPlot: true });
</script>
</body>
</html>
